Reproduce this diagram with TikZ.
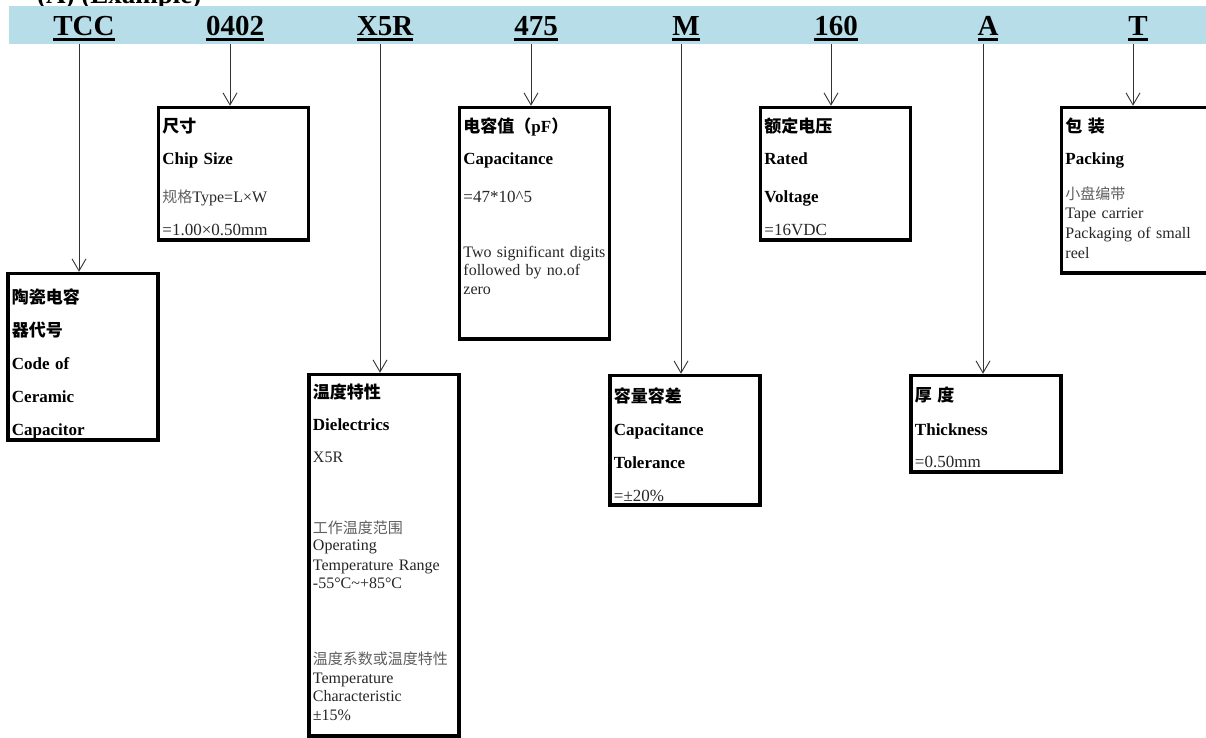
\documentclass[tikz,border=0pt]{standalone}
\usepackage{fontspec}
\setmainfont{Liberation Serif}
\newfontfamily\cjk{Noto Sans CJK SC}
\usetikzlibrary{arrows.meta}
\definecolor{barblue}{RGB}{183,221,232}
\definecolor{zhgray}{RGB}{95,95,95}
\newcommand\hb[1]{{\fontsize{17}{18}\selectfont\bfseries\color{black}#1}}
\newcommand\zhb[1]{{\fontsize{17}{18}\selectfont\cjk\bfseries\color{black}#1}}
\newcommand\zh[1]{{\fontsize{15}{18}\selectfont\cjk\color{zhgray}#1}}
\newcommand\val[1]{{\fontsize{17}{18}\selectfont #1}}
\newcommand\hdr[1]{\setbox0\hbox{#1}\rlap{\rule[-4.6pt]{\wd0}{2.8pt}}\box0}

\begin{document}
\begin{tikzpicture}[x=1pt,y=1pt,
    lbl/.style={anchor=base,inner sep=0pt,font=\fontsize{29}{30}\selectfont\bfseries},
    cbox/.style={draw,line width=3.5pt,minimum width=150pt,anchor=north,inner sep=0pt},
    txt/.style={anchor=north west,inner sep=0pt,xshift=5.5pt,text width=144pt,align=left,
      text=black!85,font=\fontsize{16}{18}\selectfont},
    arr/.style={draw=black!80,line width=0.9pt,-{Straight Barb[length=12pt,width=14pt]}}]
  \useasboundingbox (0,0) rectangle (1206,-738);
  % clipped heading and code bar
  \node[anchor=base west,inner sep=0pt,font=\fontsize{27}{30}\selectfont\bfseries] (title) at (37,-3.5) {(A) (Example)};
  \node[fill=barblue,anchor=north west,minimum width=1197pt,minimum height=38pt,inner sep=0pt] (bar) at (9,-6) {};
  \node[lbl] (l1) at (84,-36) {\hdr{TCC}};
  \node[lbl] (l2) at (235,-36) {\hdr{0402}};
  \node[lbl] (l3) at (385,-36) {\hdr{X5R}};
  \node[lbl] (l4) at (536,-36) {\hdr{475}};
  \node[lbl] (l5) at (686,-36) {\hdr{M}};
  \node[lbl] (l6) at (836,-36) {\hdr{160}};
  \node[lbl] (l7) at (988,-36) {\hdr{A}};
  \node[lbl] (l8) at (1138,-36) {\hdr{T}};
  % boxes
  \node[cbox,minimum height=166.5pt] (b1) at (83,-271.75) {};
  \node[txt] (t1) at (b1.north west) {\rule{0pt}{31.25pt}\zhb{陶瓷电容}\\[15pt]\zhb{器代号}\\[15pt]\hb{Code of}\\[15pt]\hb{Ceramic}\\[15pt]\hb{Capacitor}};
  \node[cbox,minimum height=132.5pt] (b2) at (233.5,-105.75) {};
  \node[txt] (t2) at (b2.north west) {\rule{0pt}{26.25pt}\zhb{尺寸}\\[14.5pt]\hb{Chip Size}\\[19.5pt]\zh{规格}Type=L×W\\[15pt]\val{=1.00×0.50mm}};
  \node[cbox,minimum height=361.5pt] (b3) at (384,-372.75) {};
  \node[txt] (t3) at (b3.north west) {\rule{0pt}{25.25pt}\zhb{温度特性}\\[14.5pt]\hb{Dielectrics}\\[14pt]X5R\\[52.5pt]
    \zh{工作温度范围}\\[-0.5pt]Operating\\[2pt]Temperature Range\\-55°C\textasciitilde+85°C\\[57.5pt]
    \zh{温度系数或温度特性}\\[1.5pt]Temperature\\Characteristic\\[1pt]±15\%};
  \node[cbox,minimum height=231.5pt] (b4) at (534.5,-105.75) {};
  \node[txt] (t4) at (b4.north west) {\rule{0pt}{26.25pt}\zhb{电容值（}\hb{pF}\zhb{）}\\[14.5pt]\hb{Capacitance}\\[19.5pt]\val{=47*10\textasciicircum5}\\[37pt]
    Two significant digits\\[0.5pt]followed by no.of\\[0.5pt]zero};
  \node[cbox,minimum height=129.5pt] (b5) at (685,-373.75) {};
  \node[txt] (t5) at (b5.north west) {\rule{0pt}{28.25pt}\zhb{容量容差}\\[15.5pt]\hb{Capacitance}\\[15pt]\hb{Tolerance}\\[14.5pt]\val{=±20\%}};
  \node[cbox,minimum height=132.5pt] (b6) at (835.5,-105.75) {};
  \node[txt] (t6) at (b6.north west) {\rule{0pt}{26.25pt}\zhb{额定电压}\\[14.5pt]\hb{Rated}\\[19.5pt]\hb{Voltage}\\[15pt]\val{=16VDC}};
  \node[cbox,minimum height=96.5pt] (b7) at (986,-373.75) {};
  \node[txt] (t7) at (b7.north west) {\rule{0pt}{27.25pt}\zhb{厚 度}\\[16.5pt]\hb{Thickness}\\[13.5pt]\val{=0.50mm}};
  \node[cbox,minimum height=165.5pt] (b8) at (1136.5,-105.75) {};
  \node[txt] (t8) at (b8.north west) {\rule{0pt}{26.25pt}\zhb{包 装}\\[14.5pt]\hb{Packing}\\[16.5pt]\zh{小盘编带}\\[1pt]Tape carrier\\[2pt]Packaging of small\\[2pt]reel};
  % arrows from code to box
  \foreach \i in {1,...,8}{
    \coordinate (a\i) at ([xshift=-5pt]l\i.south);
    \draw[arr] (a\i |- bar.south) -- (a\i |- b\i.north);
  }
\end{tikzpicture}
\end{document}
